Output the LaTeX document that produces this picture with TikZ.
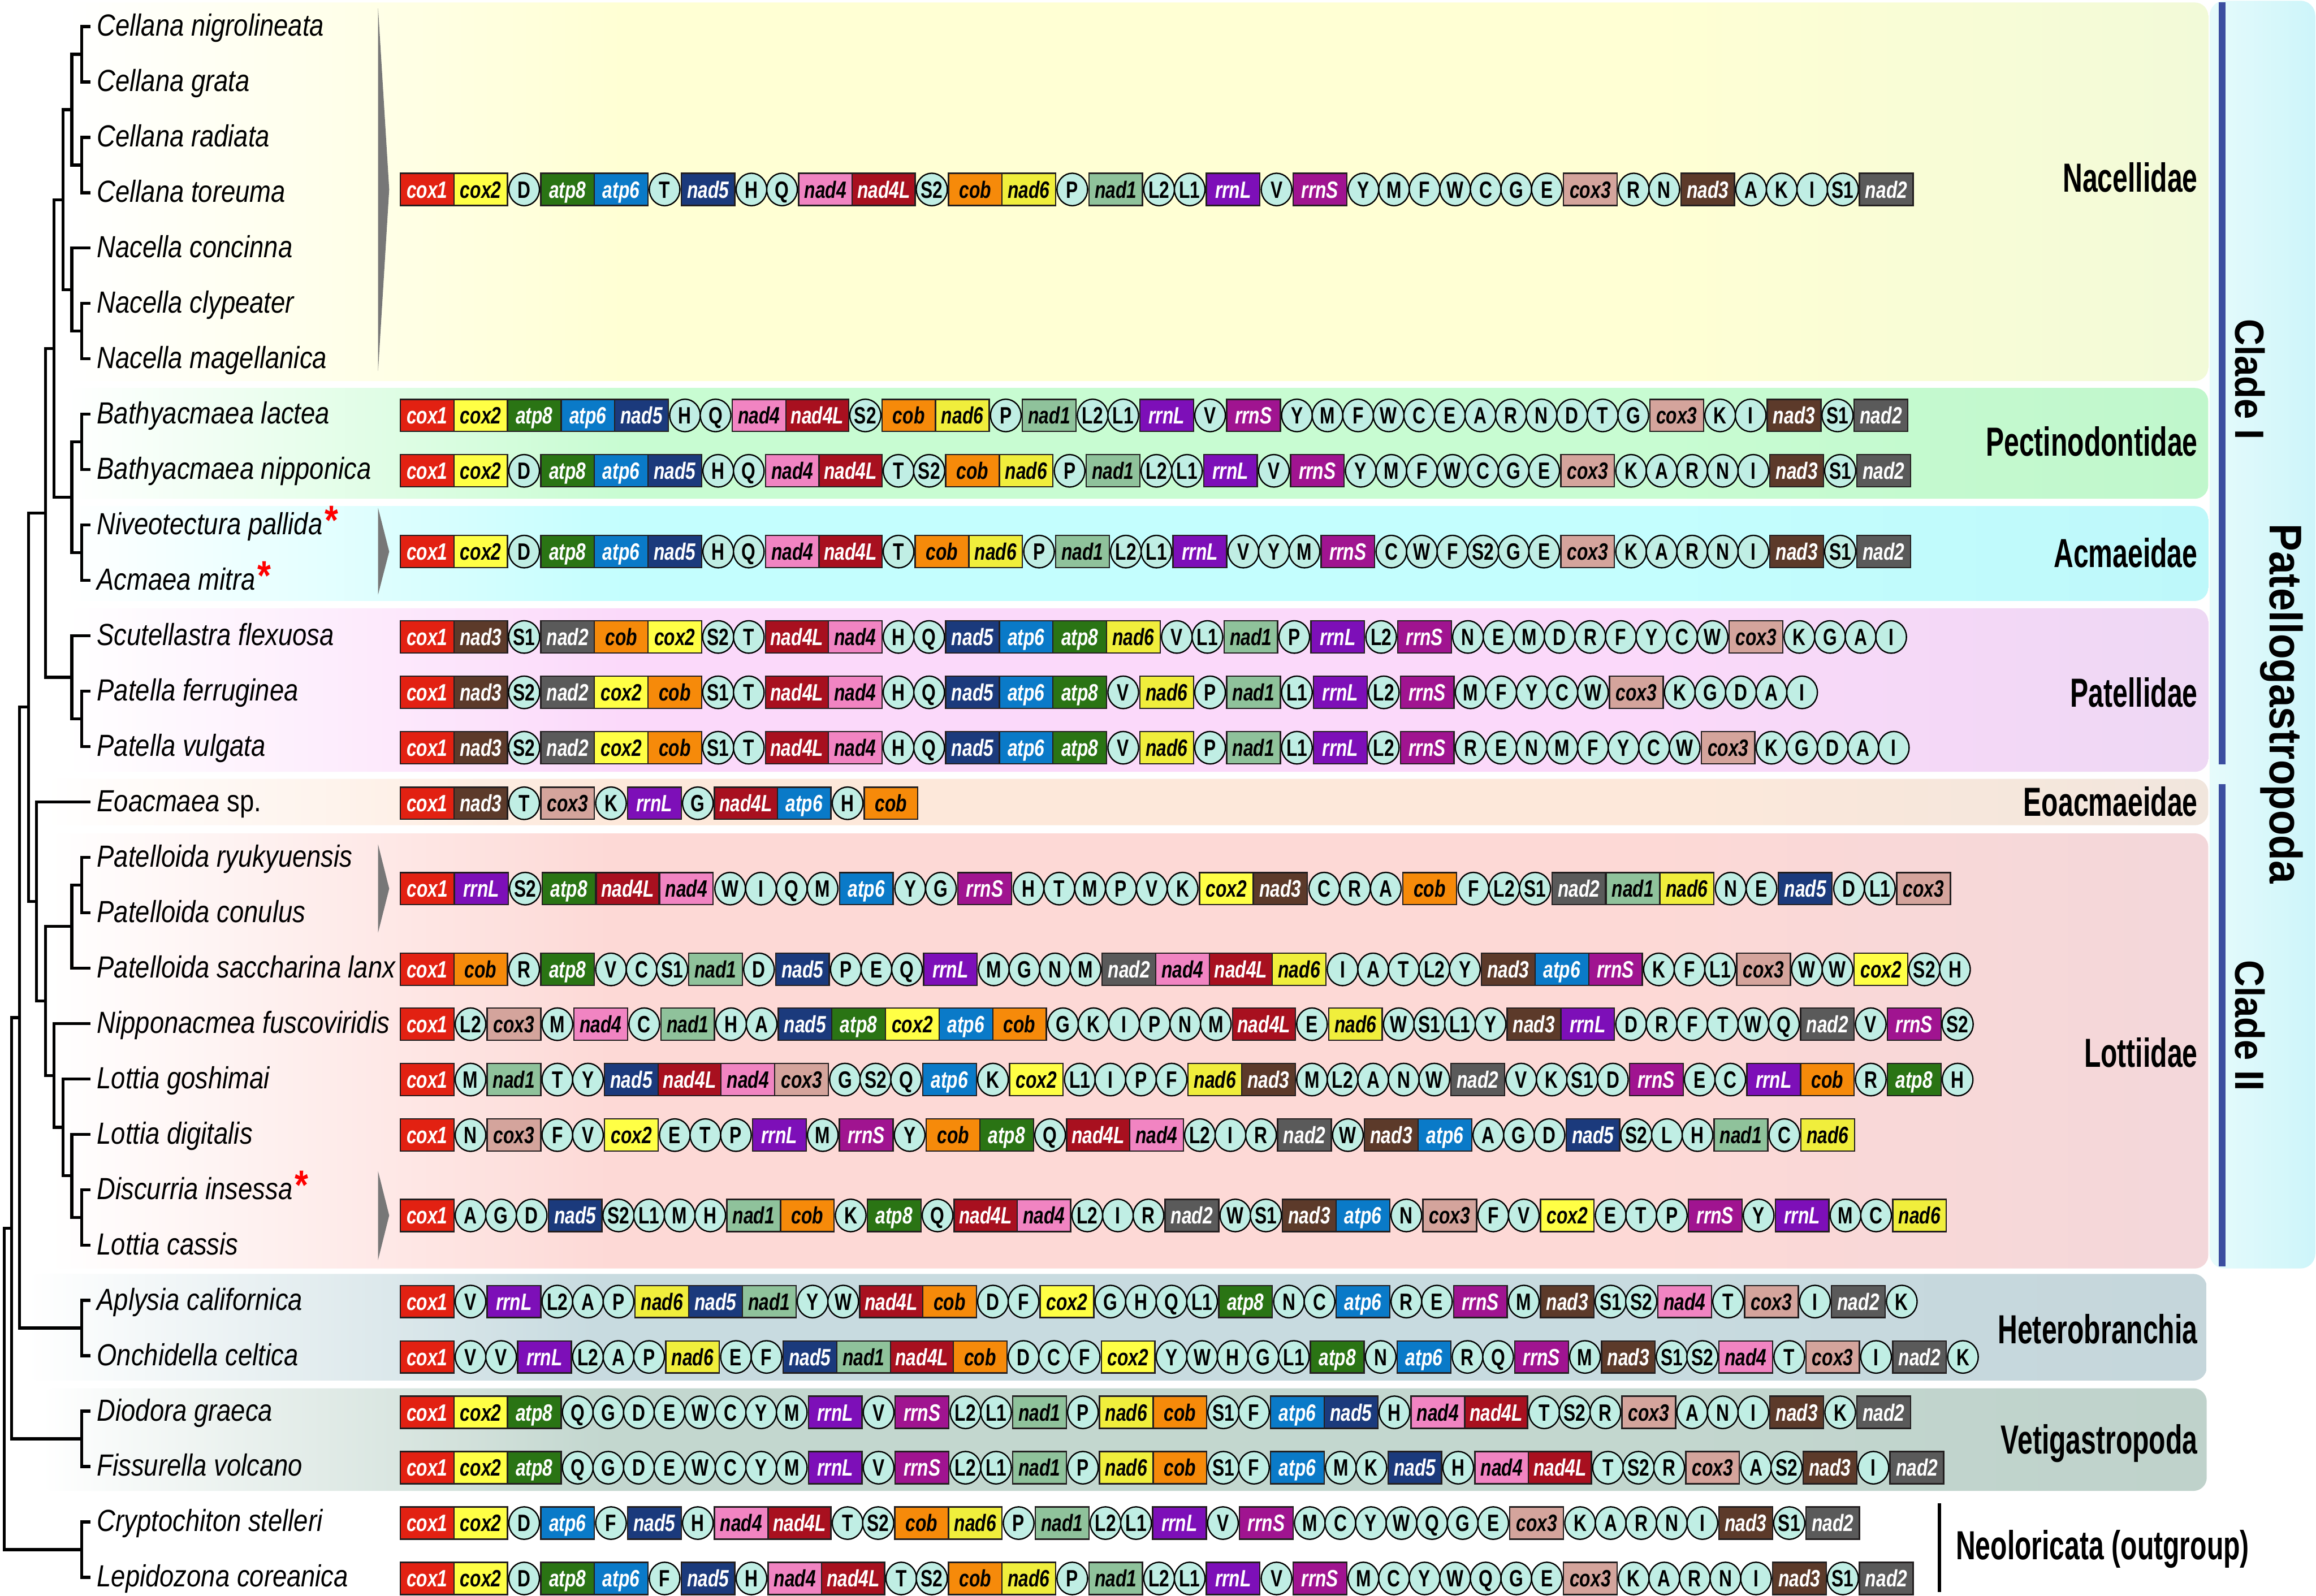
\documentclass[tikz,border=0pt]{standalone}
\usepackage{fontspec}
\setmainfont{Liberation Sans}
\newfontfamily\spfont[FakeStretch=0.84]{Liberation Sans}
\newfontfamily\genefont[FakeStretch=0.76]{Liberation Sans}
\newfontfamily\labfont[FakeStretch=0.67]{Liberation Sans}
\newfontfamily\cladefont[FakeStretch=0.9]{Liberation Sans}
\usetikzlibrary{shapes.geometric}

\definecolor{ccoxa}{HTML}{E22112}
\definecolor{ccoxb}{HTML}{FFFF45}
\definecolor{ccoxc}{HTML}{D4A49C}
\definecolor{catpe}{HTML}{2A7414}
\definecolor{catps}{HTML}{0A7AC8}
\definecolor{cnada}{HTML}{8FC29B}
\definecolor{cnadb}{HTML}{5A5A5A}
\definecolor{cnadc}{HTML}{5C3A2A}
\definecolor{cnadd}{HTML}{F184C2}
\definecolor{cnadl}{HTML}{A8101F}
\definecolor{cnade}{HTML}{1B3A7C}
\definecolor{cnadf}{HTML}{F0EE3C}
\definecolor{ccob}{HTML}{F68A0A}
\definecolor{crrnl}{HTML}{7D0FB8}
\definecolor{crrns}{HTML}{A01490}
\definecolor{trnafill}{HTML}{C0EEE4}
\definecolor{boxline}{HTML}{231F20}
\definecolor{trigray}{HTML}{777777}
\definecolor{cladeblue}{HTML}{3C4EA0}
\definecolor{nacA}{HTML}{FFFFD4}\definecolor{nacB}{HTML}{F2FAD8}
\definecolor{pecA}{HTML}{C8FCD2}\definecolor{pecB}{HTML}{C0F7CC}
\definecolor{acmA}{HTML}{C4FEFE}\definecolor{acmB}{HTML}{BEF8FA}
\definecolor{patA}{HTML}{FBD9FA}\definecolor{patB}{HTML}{EED8F4}
\definecolor{eoaA}{HTML}{FDE8DA}\definecolor{eoaB}{HTML}{F1E6DD}
\definecolor{lotA}{HTML}{FDD9D6}\definecolor{lotB}{HTML}{F3D7DA}
\definecolor{hetA}{HTML}{C8DBE0}\definecolor{hetB}{HTML}{C5D6DB}
\definecolor{vetA}{HTML}{C3D7CF}\definecolor{vetB}{HTML}{BFD2CB}
\definecolor{pgA}{HTML}{E6FBFB}\definecolor{pgB}{HTML}{CDF5FA}

\newcommand\declpanel[3]{\pgfdeclarehorizontalshading{#1}{100bp}{color(0bp)=(white); color(25bp)=(white); color(38bp)=(#2); color(62bp)=(#2); color(75bp)=(#3); color(100bp)=(#3)}}
\declpanel{shnac}{nacA}{nacB}
\declpanel{shpec}{pecA}{pecB}
\declpanel{shacm}{acmA}{acmB}
\declpanel{shpat}{patA}{patB}
\declpanel{sheoa}{eoaA}{eoaB}
\declpanel{shlot}{lotA}{lotB}
\declpanel{shhet}{hetA}{hetB}
\declpanel{shvet}{vetA}{vetB}

\tikzset{
  tree/.style={line width=2, line join=miter},
  genebox/.style={rectangle, draw=boxline, line width=0.9, minimum height=21.8, inner sep=0,
    text height=11.4, text depth=0, font=\genefont\bfseries\itshape\fontsize{16}{16}\selectfont},
  trna/.style={ellipse, draw=black, line width=0.9, fill=trnafill, minimum height=22, inner sep=0,
    text height=11.4, text depth=0, font=\genefont\bfseries\fontsize{16}{16}\selectfont},
  g-cox1/.style={fill=ccoxa,text=white},
  g-cox2/.style={fill=ccoxb,text=black},
  g-cox3/.style={fill=ccoxc,text=black},
  g-atp8/.style={fill=catpe,text=white},
  g-atp6/.style={fill=catps,text=white},
  g-nad1/.style={fill=cnada,text=black},
  g-nad2/.style={fill=cnadb,text=white},
  g-nad3/.style={fill=cnadc,text=white},
  g-nad4/.style={fill=cnadd,text=black},
  g-nad4L/.style={fill=cnadl,text=white},
  g-nad5/.style={fill=cnade,text=white},
  g-nad6/.style={fill=cnadf,text=black},
  g-cob/.style={fill=ccob,text=black},
  g-rrnL/.style={fill=crrnl,text=white},
  g-rrnS/.style={fill=crrns,text=white},
  species/.style={anchor=base west, inner sep=0, font=\spfont\itshape\fontsize{20.7}{20.7}\selectfont},
  famlabel/.style={anchor=base east, inner sep=0, font=\labfont\bfseries\fontsize{27.5}{27.5}\selectfont},
  cladelab/.style={anchor=base, inner sep=0, rotate=-90, font=\cladefont\bfseries\fontsize{27.7}{27.7}\selectfont},
  collapse/.style={fill=trigray},
}
\newcommand\redstar{\hspace{1.5pt}{\color{red}\upshape\bfseries\fontsize{28}{28}\selectfont *}}

\expandafter\def\csname gw@nad4L\endcsname{42.6}
% #1 = stretch of positions, #2 = row name, #3 = y, #4 = list
\newcommand\generow[4][1]{%
  \gdef\gx{0}\gdef\gprev{n}%
  \foreach \g [count=\gi] in {#4}{%
    \pgfkeysifdefined{/tikz/g-\g/.@cmd}{\gdef\gtyp{b}\gdef\gw{36.3}}{\gdef\gtyp{t}\gdef\gw{20.7}}%
    \ifcsname gw@\g\endcsname\xdef\gw{\csname gw@\g\endcsname}\fi
    \if\gtyp\gprev\gdef\ggap{0}\else\if n\gprev\gdef\ggap{0}\else\gdef\ggap{0.9}\fi\fi
    \pgfmathsetmacro\gcx{271+#1*(\gx+\ggap+\gw/2)}%
    \if\gtyp b\xdef\gsty{genebox,g-\g}\else\xdef\gsty{trna}\fi
    \edef\gdo{\noexpand\node[\gsty,minimum width=\gw] (#2-\gi) at (\gcx,#3) {\g};}%
    \gdo
    \pgfmathsetmacro\gxn{\gx+\ggap+\gw}%
    \xdef\gx{\gxn}\xdef\gprev{\gtyp}%
  }%
}

\begin{document}
\begin{tikzpicture}[x=1pt,y=-1pt]
\useasboundingbox (0,0) rectangle (1568,1080.5);
\fill[white] (0,0) rectangle (1568,1080.5);

% ---------- background panels ----------
\shade[left color=pgA, right color=pgB, rounded corners=10] (1496,0.5) rectangle (1567.5,858.9);
\shade[shading=shnac, rounded corners=9] (45,1.7) rectangle (1495,258);
\shade[shading=shpec, rounded corners=9] (45,262.7) rectangle (1495,337.7);
\shade[shading=shacm, rounded corners=9] (45,342.7) rectangle (1495,406.9);
\shade[shading=shpat, rounded corners=9] (45,411.9) rectangle (1495,522.6);
\shade[shading=sheoa, rounded corners=9] (30,527.4) rectangle (1495,558.8);
\shade[shading=shlot, rounded corners=9] (33,564.3) rectangle (1495,858.9);
\shade[shading=shhet, rounded corners=9] (18,862.6) rectangle (1494,934.8);
\shade[shading=shvet, rounded corners=9] (28,940) rectangle (1494,1009.5);

% clade bars
\draw[cladeblue, line width=4.7] (1504.5,1.7) -- (1504.5,517.6);
\draw[cladeblue, line width=4.7] (1504.5,531) -- (1504.5,857.6);
\draw[black, line width=2.5] (1313,1018) -- (1313,1078);

% ---------- tree ----------
\foreach \i in {1,...,29}{\coordinate (l\i) at (61.1,{18+37.5*(\i-1)});}
\coordinate (nA) at (55.2,36.75);
\coordinate (nB) at (55.2,111.75);
\coordinate (nC) at (48.6,74.25);
\coordinate (nD) at (55.2,224.25);
\coordinate (nE) at (48.6,196.125);
\coordinate (nF) at (42.7,135.19);
\coordinate (nG) at (55.2,299.25);
\coordinate (nH) at (55.2,374.25);
\coordinate (nI) at (48.6,336.75);
\coordinate (nJ) at (36.7,235.97);
\coordinate (nK) at (55.2,486.75);
\coordinate (nL) at (48.6,458.625);
\coordinate (nM) at (30.8,347.3);
\coordinate (nN) at (55.2,599.25);
\coordinate (nO) at (48.6,627.375);
\coordinate (nP) at (55.2,824.25);
\coordinate (nQ) at (48.6,796.125);
\coordinate (nR) at (42.7,763.31);
\coordinate (nS) at (36.7,728.16);
\coordinate (nT) at (30.8,677.77);
\coordinate (nU) at (24.8,610.38);
\coordinate (nV) at (19.3,478.84);
\coordinate (nW) at (55.2,899.25);
\coordinate (nX) at (13.1,689.05);
\coordinate (nY) at (55.2,974.25);
\coordinate (nZ) at (7.9,831.65);
\coordinate (nAA) at (55.2,1049.25);
\coordinate (nRoot) at (3.0,940.45);
\draw[tree]
  (nA) |- (l1) (nA) |- (l2) (nB) |- (l3) (nB) |- (l4)
  (nC) |- (nA) (nC) |- (nB) (nD) |- (l6) (nD) |- (l7)
  (nE) |- (l5) (nE) |- (nD) (nF) |- (nC) (nF) |- (nE)
  (nG) |- (l8) (nG) |- (l9) (nH) |- (l10) (nH) |- (l11)
  (nI) |- (nG) (nI) |- (nH) (nJ) |- (nF) (nJ) |- (nI)
  (nK) |- (l13) (nK) |- (l14) (nL) |- (l12) (nL) |- (nK)
  (nM) |- (nJ) (nM) |- (nL)
  (nN) |- (l16) (nN) |- (l17) (nO) |- (nN) (nO) |- (l18)
  (nP) |- (l22) (nP) |- (l23) (nQ) |- (l21) (nQ) |- (nP)
  (nR) |- (l20) (nR) |- (nQ) (nS) |- (l19) (nS) |- (nR)
  (nT) |- (nO) (nT) |- (nS) (nU) |- (l15) (nU) |- (nT)
  (nV) |- (nM) (nV) |- (nU)
  (nW) |- (l24) (nW) |- (l25) (nX) |- (nV) (nX) |- (nW)
  (nY) |- (l26) (nY) |- (l27) (nZ) |- (nX) (nZ) |- (nY)
  (nAA) |- (l28) (nAA) |- (l29) (nRoot) |- (nZ) (nRoot) |- (nAA);

% ---------- species names ----------
\node[species] (sp1) at (65.5,24.5) {Cellana nigrolineata};
\node[species] (sp2) at (65.5,62) {Cellana grata};
\node[species] (sp3) at (65.5,99.5) {Cellana radiata};
\node[species] (sp4) at (65.5,137) {Cellana toreuma};
\node[species] (sp5) at (65.5,174.5) {Nacella concinna};
\node[species] (sp6) at (65.5,212) {Nacella clypeater};
\node[species] (sp7) at (65.5,249.5) {Nacella magellanica};
\node[species] (sp8) at (65.5,287) {Bathyacmaea lactea};
\node[species] (sp9) at (65.5,324.5) {Bathyacmaea nipponica};
\node[species] (sp10) at (65.5,362) {Niveotectura pallida\redstar};
\node[species] (sp11) at (65.5,399.5) {Acmaea mitra\redstar};
\node[species] (sp12) at (65.5,437) {Scutellastra flexuosa};
\node[species] (sp13) at (65.5,474.5) {Patella ferruginea};
\node[species] (sp14) at (65.5,512) {Patella vulgata};
\node[species] (sp15) at (65.5,549.5) {Eoacmaea {\upshape sp.}};
\node[species] (sp16) at (65.5,587) {Patelloida ryukyuensis};
\node[species] (sp17) at (65.5,624.5) {Patelloida conulus};
\node[species] (sp18) at (65.5,662) {Patelloida saccharina lanx};
\node[species] (sp19) at (65.5,699.5) {Nipponacmea fuscoviridis};
\node[species] (sp20) at (65.5,737) {Lottia goshimai};
\node[species] (sp21) at (65.5,774.5) {Lottia digitalis};
\node[species] (sp22) at (65.5,812) {Discurria insessa\redstar};
\node[species] (sp23) at (65.5,849.5) {Lottia cassis};
\node[species] (sp24) at (65.5,887) {Aplysia californica};
\node[species] (sp25) at (65.5,924.5) {Onchidella celtica};
\node[species] (sp26) at (65.5,962) {Diodora graeca};
\node[species] (sp27) at (65.5,999.5) {Fissurella volcano};
\node[species] (sp28) at (65.5,1037) {Cryptochiton stelleri};
\node[species] (sp29) at (65.5,1074.5) {Lepidozona coreanica};

% ---------- collapse triangles ----------
\fill[collapse] (256,5.7) -- (263.5,128.3) -- (256,251) -- cycle;
\fill[collapse] (256,344) -- (263.5,373.5) -- (256,402.5) -- cycle;
\fill[collapse] (256,571.9) -- (263.5,601.7) -- (256,631.4) -- cycle;
\fill[collapse] (256,793.2) -- (263.5,823) -- (256,853) -- cycle;

% ---------- gene orders ----------
\generow{r1}{128.3}{cox1,cox2,D,atp8,atp6,T,nad5,H,Q,nad4,nad4L,S2,cob,nad6,P,nad1,L2,L1,rrnL,V,rrnS,Y,M,F,W,C,G,E,cox3,R,N,nad3,A,K,I,S1,nad2}
\generow{r2}{281.3}{cox1,cox2,atp8,atp6,nad5,H,Q,nad4,nad4L,S2,cob,nad6,P,nad1,L2,L1,rrnL,V,rrnS,Y,M,F,W,C,E,A,R,N,D,T,G,cox3,K,I,nad3,S1,nad2}
\generow{r3}{318.8}{cox1,cox2,D,atp8,atp6,nad5,H,Q,nad4,nad4L,T,S2,cob,nad6,P,nad1,L2,L1,rrnL,V,rrnS,Y,M,F,W,C,G,E,cox3,K,A,R,N,I,nad3,S1,nad2}
\generow{r4}{373.5}{cox1,cox2,D,atp8,atp6,nad5,H,Q,nad4,nad4L,T,cob,nad6,P,nad1,L2,L1,rrnL,V,Y,M,rrnS,C,W,F,S2,G,E,cox3,K,A,R,N,I,nad3,S1,nad2}
\generow{r5}{431.3}{cox1,nad3,S1,nad2,cob,cox2,S2,T,nad4L,nad4,H,Q,nad5,atp6,atp8,nad6,V,L1,nad1,P,rrnL,L2,rrnS,N,E,M,D,R,F,Y,C,W,cox3,K,G,A,I}
\generow{r6}{468.8}{cox1,nad3,S2,nad2,cox2,cob,S1,T,nad4L,nad4,H,Q,nad5,atp6,atp8,V,nad6,P,nad1,L1,rrnL,L2,rrnS,M,F,Y,C,W,cox3,K,G,D,A,I}
\generow{r7}{506.3}{cox1,nad3,S2,nad2,cox2,cob,S1,T,nad4L,nad4,H,Q,nad5,atp6,atp8,V,nad6,P,nad1,L1,rrnL,L2,rrnS,R,E,N,M,F,Y,C,W,cox3,K,G,D,A,I}
\generow{r8}{543.9}{cox1,nad3,T,cox3,K,rrnL,G,nad4L,atp6,H,cob}
\generow[1.008]{r9}{601.7}{cox1,rrnL,S2,atp8,nad4L,nad4,W,I,Q,M,atp6,Y,G,rrnS,H,T,M,P,V,K,cox2,nad3,C,R,A,cob,F,L2,S1,nad2,nad1,nad6,N,E,nad5,D,L1,cox3}
\generow{r10}{656.4}{cox1,cob,R,atp8,V,C,S1,nad1,D,nad5,P,E,Q,rrnL,M,G,N,M,nad2,nad4,nad4L,nad6,I,A,T,L2,Y,nad3,atp6,rrnS,K,F,L1,cox3,W,W,cox2,S2,H}
\generow{r11}{693.5}{cox1,L2,cox3,M,nad4,C,nad1,H,A,nad5,atp8,cox2,atp6,cob,G,K,I,P,N,M,nad4L,E,nad6,W,S1,L1,Y,nad3,rrnL,D,R,F,T,W,Q,nad2,V,rrnS,S2}
\generow{r12}{731}{cox1,M,nad1,T,Y,nad5,nad4L,nad4,cox3,G,S2,Q,atp6,K,cox2,L1,I,P,F,nad6,nad3,M,L2,A,N,W,nad2,V,K,S1,D,rrnS,E,C,rrnL,cob,R,atp8,H}
\generow{r13}{768.6}{cox1,N,cox3,F,V,cox2,E,T,P,rrnL,M,rrnS,Y,cob,atp8,Q,nad4L,nad4,L2,I,R,nad2,W,nad3,atp6,A,G,D,nad5,S2,L,H,nad1,C,nad6}
\generow{r14}{823}{cox1,A,G,D,nad5,S2,L1,M,H,nad1,cob,K,atp8,Q,nad4L,nad4,L2,I,R,nad2,W,S1,nad3,atp6,N,cox3,F,V,cox2,E,T,P,rrnS,Y,rrnL,M,C,nad6}
\generow{r15}{881.3}{cox1,V,rrnL,L2,A,P,nad6,nad5,nad1,Y,W,nad4L,cob,D,F,cox2,G,H,Q,L1,atp8,N,C,atp6,R,E,rrnS,M,nad3,S1,S2,nad4,T,cox3,I,nad2,K}
\generow{r16}{918.8}{cox1,V,V,rrnL,L2,A,P,nad6,E,F,nad5,nad1,nad4L,cob,D,C,F,cox2,Y,W,H,G,L1,atp8,N,atp6,R,Q,rrnS,M,nad3,S1,S2,nad4,T,cox3,I,nad2,K}
\generow{r17}{956.3}{cox1,cox2,atp8,Q,G,D,E,W,C,Y,M,rrnL,V,rrnS,L2,L1,nad1,P,nad6,cob,S1,F,atp6,nad5,H,nad4,nad4L,T,S2,R,cox3,A,N,I,nad3,K,nad2}
\generow{r18}{993.8}{cox1,cox2,atp8,Q,G,D,E,W,C,Y,M,rrnL,V,rrnS,L2,L1,nad1,P,nad6,cob,S1,F,atp6,M,K,nad5,H,nad4,nad4L,T,S2,R,cox3,A,S2,nad3,I,nad2}
\generow{r19}{1031.3}{cox1,cox2,D,atp6,F,nad5,H,nad4,nad4L,T,S2,cob,nad6,P,nad1,L2,L1,rrnL,V,rrnS,M,C,Y,W,Q,G,E,cox3,K,A,R,N,I,nad3,S1,nad2}
\generow{r20}{1068.8}{cox1,cox2,D,atp8,atp6,F,nad5,H,nad4,nad4L,T,S2,cob,nad6,P,nad1,L2,L1,rrnL,V,rrnS,M,C,Y,W,Q,G,E,cox3,K,A,R,N,I,nad3,S1,nad2}

% ---------- group labels ----------
\node[famlabel] (fNac) at (1488,130) {Nacellidae};
\node[famlabel] (fPec) at (1488,308.9) {Pectinodontidae};
\node[famlabel] (fAcm) at (1488,384.2) {Acmaeidae};
\node[famlabel] (fPat) at (1488,478.8) {Patellidae};
\node[famlabel] (fEoa) at (1488,552.6) {Eoacmaeidae};
\node[famlabel] (fLot) at (1488,722.5) {Lottiidae};
\node[famlabel] (fHet) at (1488,909.6) {Heterobranchia};
\node[famlabel] (fVet) at (1488,984.3) {Vetigastropoda};
\node[famlabel, anchor=base west] (fNeo) at (1324,1056) {Neoloricata (outgroup)};
\node[cladelab] (cI) at (1513.6,257) {Clade I};
\node[cladelab] (cII) at (1513.6,694.5) {Clade II};
\node[cladelab, font=\cladefont\bfseries\fontsize{31}{31}\selectfont] (cPG) at (1536.6,476.5) {Patellogastropoda};
\end{tikzpicture}
\end{document}
